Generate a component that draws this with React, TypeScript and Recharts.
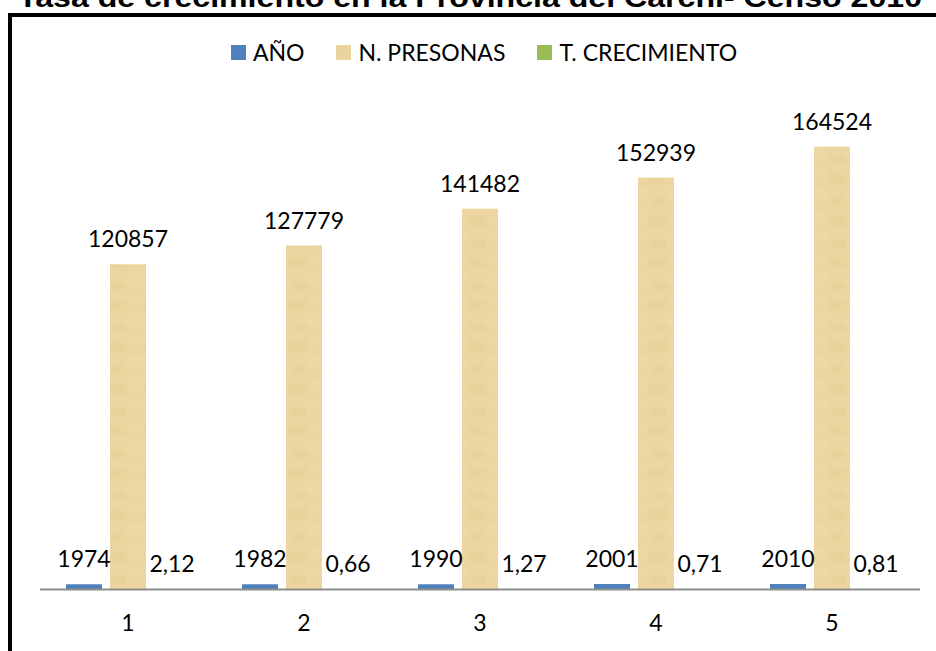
import React from 'react';
import { BarChart, Bar, XAxis, YAxis, LabelList, Legend } from 'recharts';

const categories = ['1', '2', '3', '4', '5'];
const anos = [1974, 1982, 1990, 2001, 2010];
const personas = [120857, 127779, 141482, 152939, 164524];
const crecimiento = [2.12, 0.66, 1.27, 0.71, 0.81];
const seriesNames = ['AÑO', 'N. PRESONAS', 'T. CRECIMIENTO'];
const seriesColors = ['#4F81BD', '#EAD39E', '#9BBB59'];
const title = 'Tasa de crecimiento en la Provincia del Carchi- Censo 2010';

const data = categories.map((c, i) => ({
  cat: c,
  ano: anos[i],
  personas: personas[i],
  crec: crecimiento[i],
}));

const FONT = "Lato, 'Open Sans', sans-serif";
const fmt = (v: any) => String(v).replace('.', ',');

const LegendContent = () => (
  <div style={{ display: 'flex', justifyContent: 'center', alignItems: 'center', fontFamily: FONT, fontSize: 23, color: '#000' }}>
    {seriesNames.map((n, i) => (
      <div key={i} style={{ display: 'flex', alignItems: 'center', marginLeft: i === 0 ? 0 : 32 }}>
        <div style={{ width: 15, height: 15, background: seriesColors[i], marginRight: 7 }} />
        <span style={{ lineHeight: '28px' }}>{n}</span>
      </div>
    ))}
  </div>
);

export default function App() {
  return (
    <div style={{ position: 'fixed', left: 0, top: 0, width: 936, height: 651, overflow: 'hidden', background: '#fff' }}>
      <div style={{ position: 'absolute', left: 8, top: 13, width: 1100, height: 1100, border: '4.5px solid #000', boxSizing: 'border-box' }} />
      <svg width={936} height={20} style={{ position: 'absolute', left: 0, top: 0 }}>
        <text x={470} y={7} textAnchor="middle" fontFamily="'Liberation Sans', Arial, sans-serif" fontWeight="bold" fontSize={27} textLength={904} lengthAdjust="spacingAndGlyphs" fill="#000">
          {title}
        </text>
      </svg>
      <div style={{ position: 'absolute', left: 0, top: 0 }}>
        <BarChart width={936} height={651} data={data} margin={{ top: 105, right: 16, bottom: 21.5, left: 40 }} barCategoryGap={26} barGap={8}>
          <defs>
            <pattern id="papyrus" patternUnits="userSpaceOnUse" width={36} height={42}>
              <rect x={0} y={0} width={36} height={42} fill="#ECD5A0" />
              <rect x={0} y={6} width={18} height={10} fill="#E9D198" opacity={0.6} />
              <rect x={18} y={20} width={18} height={11} fill="#EFDAA9" opacity={0.6} />
              <rect x={3} y={30} width={15} height={8} fill="#E8CF96" opacity={0.5} />
              <rect x={21} y={2} width={13} height={7} fill="#EFDAAA" opacity={0.5} />
            </pattern>
          </defs>
          <XAxis
            dataKey="cat"
            height={40}
            tickLine={false}
            tickSize={0}
            tickMargin={25}
            axisLine={{ stroke: '#8C8C8C', strokeWidth: 2 }}
            tick={{ fill: '#000', fontSize: 23, fontFamily: FONT }}
          />
          <YAxis hide domain={[0, 180000]} />
          <Legend verticalAlign="middle" wrapperStyle={{ top: 38, left: 32, width: 904 }} content={<LegendContent />} />
          <Bar dataKey="ano" name={seriesNames[0]} fill={seriesColors[0]} isAnimationActive={false}>
            <LabelList dataKey="ano" position="top" offset={17} fill="#000" fontSize={23} fontFamily={FONT} formatter={fmt} />
          </Bar>
          <Bar dataKey="personas" name={seriesNames[1]} fill="url(#papyrus)" isAnimationActive={false}>
            <LabelList dataKey="personas" position="top" offset={17} fill="#000" fontSize={23} fontFamily={FONT} formatter={fmt} />
          </Bar>
          <Bar dataKey="crec" name={seriesNames[2]} fill={seriesColors[2]} isAnimationActive={false}>
            <LabelList dataKey="crec" position="top" offset={17} fill="#000" fontSize={23} fontFamily={FONT} formatter={fmt} />
          </Bar>
        </BarChart>
      </div>
    </div>
  );
}
